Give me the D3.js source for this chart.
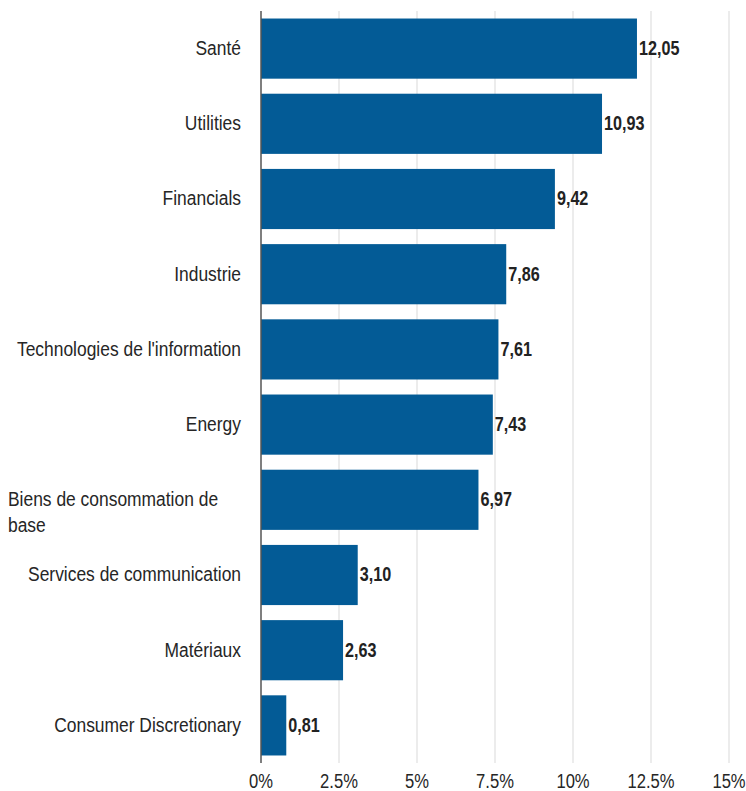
<!DOCTYPE html>
<html><head><meta charset="utf-8">
<script src="https://cdn.jsdelivr.net/npm/d3@7"></script>
<style>body{margin:0;background:#fff}svg{display:block}</style>
</head><body>
<svg id="c" width="746" height="791"></svg>
<script>
const categories = ["Santé","Utilities","Financials","Industrie","Technologies de l'information","Energy","Biens de consommation de base","Services de communication","Matériaux","Consumer Discretionary"];
const values = [12.05,10.93,9.42,7.86,7.61,7.43,6.97,3.10,2.63,0.81];
const tickValues = [0,2.5,5,7.5,10,12.5,15];
const tickLabels = ["0%","2.5%","5%","7.5%","10%","12.5%","15%"];

const svg = d3.select("#c");
const font = "'Liberation Sans', Arial, sans-serif";
const x = d3.scaleLinear().domain([0,15]).range([261,729]);
const y = d3.scaleBand().domain(categories).range([11,763]).paddingInner(0.2).paddingOuter(0.1);
const FS = 21;

svg.append("g").selectAll("line").data(tickValues.slice(1)).join("line")
  .attr("x1",d=>x(d)).attr("x2",d=>x(d)).attr("y1",11).attr("y2",763)
  .attr("stroke","#d9d9d9").attr("stroke-width",1);

svg.append("g").selectAll("rect").data(values).join("rect")
  .attr("x",x(0)).attr("y",(d,i)=>y(categories[i]))
  .attr("width",d=>x(d)-x(0)).attr("height",y.bandwidth())
  .attr("fill","#035b96");

svg.append("line").attr("x1",x(0)).attr("x2",x(0)).attr("y1",11).attr("y2",763)
  .attr("stroke","#555").attr("stroke-width",1.5);

// value labels (condensed)
svg.append("g").selectAll("text").data(values).join("text")
  .attr("transform",(d,i)=>`translate(${x(d)+2},${y(categories[i])+y.bandwidth()/2}) scale(0.77,1)`)
  .attr("dy","0.3em").attr("font-family",font).attr("font-size",FS).attr("font-weight","bold")
  .attr("fill","#222")
  .text(d=>d.toFixed(2).replace(".",","));

// category labels (condensed)
const lg = svg.append("g").attr("font-family",font).attr("font-size",FS).attr("fill","#262626");
categories.forEach((c,i)=>{
  const cy = y(c)+y.bandwidth()/2;
  if (c.startsWith("Biens")) {
    const t = lg.append("text").attr("text-anchor","start")
      .attr("transform",`translate(8,${cy}) scale(0.83,1)`);
    t.append("tspan").attr("x",0).attr("y",0).attr("dy","0.3em").text("Biens de consommation de");
    t.append("tspan").attr("x",0).attr("y",26).attr("dy","0.3em").text("base");
  } else {
    lg.append("text").attr("text-anchor","end")
      .attr("transform",`translate(241,${cy}) scale(0.83,1)`)
      .attr("dy","0.3em").text(c);
  }
});

// x tick labels (condensed)
svg.append("g").selectAll("text").data(tickValues).join("text")
  .attr("transform",d=>`translate(${x(d)},780.5) scale(0.79,1)`)
  .attr("dy","0.35em").attr("text-anchor","middle")
  .attr("font-family",font).attr("font-size",FS).attr("fill","#262626")
  .text((d,i)=>tickLabels[i]);
</script>
</body></html>
